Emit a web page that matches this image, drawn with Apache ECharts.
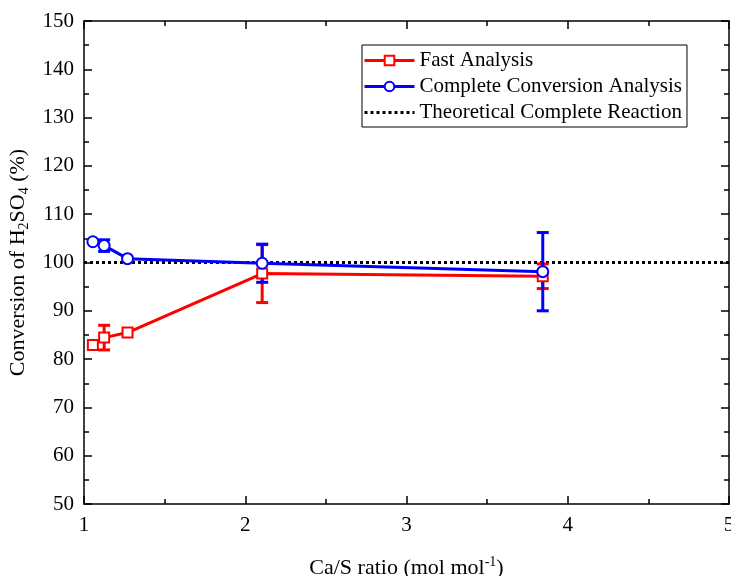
<!DOCTYPE html>
<html>
<head>
<meta charset="utf-8">
<script src="https://cdn.jsdelivr.net/npm/echarts@6/dist/echarts.min.js"></script>
<style>
  html, body { margin: 0; padding: 0; background: #fff; }
  #chart { width: 731px; height: 576px; }
</style>
</head>
<body>
<div id="chart"></div>
<script>
// Ca/S ratio (x) and conversion values (%)
const caS = [1.055, 1.125, 1.27, 2.105, 3.845]
const fastVals = [82.9, 84.45, 85.5, 97.7, 97.15]
const fastErr = [0, 2.55, 0, 6.0, 2.55]
const completeVals = [104.3, 103.5, 100.8, 99.85, 98.1]
const completeErr = [0, 1.2, 0, 3.95, 8.1]
const theoretical = [[1, 100], [5, 100]]
const xTicks = [1, 2, 3, 4, 5]
const yTicks = [50, 60, 70, 80, 90, 100, 110, 120, 130, 140, 150]

const font = 'Liberation Serif'
const red = '#ff0000'
const blue = '#0000ff'

function pairs(xs, ys) {
  return xs.map((x, i) => [x, ys[i]])
}

function errData(xs, ys, es) {
  // [x, low, high] only where there is a bar
  const out = []
  xs.forEach((x, i) => {
    if (es[i] > 0) out.push([x, ys[i] - es[i], ys[i] + es[i]])
  })
  return out
}

function errSeries(name, data, color) {
  return {
    name,
    type: 'custom',
    data,
    silent: true,
    renderItem(params, api) {
      const x = api.value(0)
      const lo = api.coord([x, api.value(1)])
      const hi = api.coord([x, api.value(2)])
      const w = 6
      const style = { stroke: color, lineWidth: 3 }
      return {
        type: 'group',
        children: [
          { type: 'line', shape: { x1: lo[0], y1: lo[1], x2: hi[0], y2: hi[1] }, style },
          { type: 'line', shape: { x1: lo[0] - w, y1: lo[1], x2: lo[0] + w, y2: lo[1] }, style },
          { type: 'line', shape: { x1: hi[0] - w, y1: hi[1], x2: hi[0] + w, y2: hi[1] }, style }
        ]
      }
    }
  }
}

const axisLine = { show: true, onZero: false, lineStyle: { color: '#000', width: 1.5 } }
const tick = { show: true, inside: true, length: 8, lineStyle: { color: '#000', width: 1.5 } }
const minor = { show: true, splitNumber: 2, length: 5, lineStyle: { color: '#000', width: 1.5 } }

const chart = echarts.init(document.getElementById('chart'))
chart.setOption({
  backgroundColor: '#fff',
  animation: false,
  grid: { left: 84, top: 21, right: 2, bottom: 72, outerBoundsMode: 'none' },
  legend: {
    orient: 'vertical',
    left: 362,
    top: 45,
    data: [
      'Fast Analysis',
      'Complete Conversion Analysis',
      { name: 'Theoretical Complete Reaction', itemStyle: { opacity: 0 } }
    ],
    itemWidth: 50,
    itemHeight: 12,
    itemGap: 5,
    padding: [5, 5, 4, 1],
    borderColor: '#000',
    borderWidth: 1,
    borderRadius: 0,
    lineStyle: { width: 3 },
    textStyle: { fontFamily: font, fontSize: 21, color: '#000', lineHeight: 21 }
  },
  xAxis: [{
    type: 'value',
    min: 1,
    max: 5,
    interval: 1,
    name: '{a|Ca/S ratio (mol mol}{sup|-1}{a|)}',
    nameLocation: 'middle',
    nameGap: 51,
    nameTextStyle: {
      rich: {
        a: { fontFamily: font, fontSize: 22, color: '#000', lineHeight: 26 },
        sup: { fontFamily: font, fontSize: 14, color: '#000', verticalAlign: 'top', lineHeight: 8 }
      }
    },
    axisLine,
    axisTick: tick,
    minorTick: minor,
    splitLine: { show: false },
    axisLabel: { fontFamily: font, fontSize: 21, color: '#000', margin: 11 }
  }, {
    type: 'value',
    position: 'top',
    min: 1,
    max: 5,
    interval: 1,
    axisLine,
    axisTick: tick,
    minorTick: minor,
    splitLine: { show: false },
    axisLabel: { show: false }
  }],
  yAxis: [{
    type: 'value',
    min: 50,
    max: 150,
    interval: 10,
    name: '{a|Conversion of H}{sub|2}{a|SO}{sub|4}{a| (%)}',
    nameLocation: 'middle',
    nameGap: 53,
    nameTextStyle: {
      rich: {
        a: { fontFamily: font, fontSize: 22, color: '#000', lineHeight: 26 },
        sub: { fontFamily: font, fontSize: 14, color: '#000', verticalAlign: 'bottom', lineHeight: 6 }
      }
    },
    axisLine,
    axisTick: tick,
    minorTick: minor,
    splitLine: { show: false },
    axisLabel: { fontFamily: font, fontSize: 21, color: '#000', margin: 10 }
  }, {
    type: 'value',
    position: 'right',
    min: 50,
    max: 150,
    interval: 10,
    axisLine,
    axisTick: tick,
    minorTick: minor,
    splitLine: { show: false },
    axisLabel: { show: false }
  }],
  series: [
    {
      name: 'Theoretical Complete Reaction',
      type: 'line',
      data: theoretical,
      showSymbol: false,
      symbol: 'none',
      lineStyle: { color: '#000', width: 3, type: [3, 3] },
      itemStyle: { color: '#000' },
      z: 1
    },
    {
      name: 'Fast Analysis',
      type: 'line',
      data: pairs(caS, fastVals),
      symbol: 'rect',
      symbolSize: 10,
      lineStyle: { color: red, width: 3 },
      itemStyle: { color: '#fff', borderColor: red, borderWidth: 2 },
      z: 2
    },
    errSeries('fastErr', errData(caS, fastVals, fastErr), red),
    {
      name: 'Complete Conversion Analysis',
      type: 'line',
      data: pairs(caS, completeVals),
      symbol: 'circle',
      symbolSize: 11,
      lineStyle: { color: blue, width: 3 },
      itemStyle: { color: '#fff', borderColor: blue, borderWidth: 2 },
      z: 4
    },
    errSeries('completeErr', errData(caS, completeVals, completeErr), blue)
  ]
})
</script>
</body>
</html>
